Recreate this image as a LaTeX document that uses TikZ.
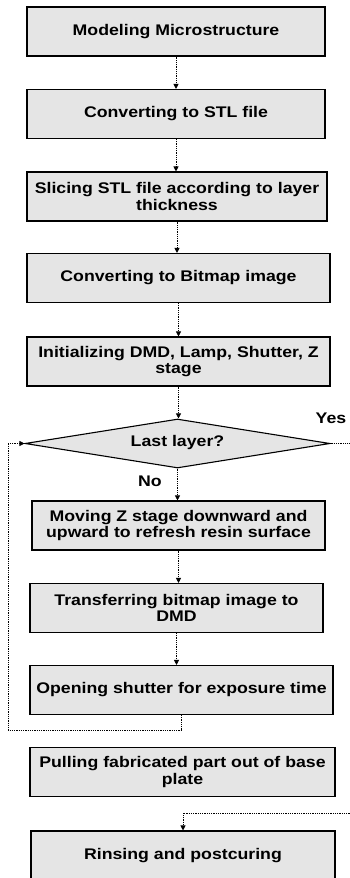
\documentclass[tikz,border=0pt]{standalone}
\usepackage{fontspec}
\setmainfont{Liberation Sans}[FakeStretch=1.15]
\usetikzlibrary{shapes.geometric,arrows.meta}
\begin{document}
\begin{tikzpicture}[x=1pt,y=-1pt,
  font=\fontsize{15.4}{16.5}\selectfont\bfseries,
  box/.style={draw=black, line width=1.1pt, fill=black!10, minimum height=49pt, align=center, inner sep=2pt},
  decision/.style={diamond, draw=black, line width=1.1pt, fill=black!10, minimum width=305pt, minimum height=49pt, inner sep=0pt, aspect=6},
  conn/.style={densely dotted, line width=0.8pt, -{Triangle[length=5pt,width=5pt]}},
  lineonly/.style={densely dotted, line width=0.8pt},
  lbl/.style={inner sep=0pt}]
\useasboundingbox (0,0) rectangle (349,878);
\node[box, minimum width=298pt] (b1) at (176,31.5) {Modeling Microstructure};
\node[box, minimum width=298pt] (b2) at (176,114) {Converting to STL file};
\node[box, minimum width=300pt] (b3) at (177,196.5) {Slicing STL file according to layer\\thickness};
\node[box, minimum width=303pt] (b4) at (178.5,278) {Converting to Bitmap image};
\node[box, minimum width=303pt] (b5) at (178.5,361.5) {Initializing DMD, Lamp, Shutter, Z\\stage};
\node[decision] (d) at (177.5,443.5) {\raisebox{5pt}{Last layer?}};
\node[box, minimum width=293pt] (b6) at (178.5,525.5) {Moving Z stage downward and\\upward to refresh resin surface};
\node[box, minimum width=293pt] (b7) at (176.5,608) {Transferring bitmap image to\\DMD};
\node[box, minimum width=303pt] (b8) at (181.5,690) {Opening shutter for exposure time};
\node[box, minimum width=305pt] (b9) at (182.5,772) {Pulling fabricated part out of base\\plate};
\node[box, minimum width=304pt] (b10) at (183,855.5) {Rinsing and postcuring};
\node[lbl] (yes) at (331,418) {Yes};
\node[lbl] (no) at (150,481) {No};
\coordinate (lp1) at (182,730);
\coordinate (lp2) at (8,730);
\coordinate (yr) at (352,813);
\draw[conn] (b1.south) -- (b1.south |- b2.north);
\draw[conn] (b2.south) -- (b2.south |- b3.north);
\draw[conn] (b3.south) -- (b3.south |- b4.north);
\draw[conn] (b4.south) -- (b4.south |- b5.north);
\draw[conn] (b5.south) -- (b5.south |- d.north);
\draw[conn] (d.south) -- (d.south |- b6.north);
\draw[conn] (b6.south) -- (b6.south |- b7.north);
\draw[conn] (b7.south) -- (b7.south |- b8.north);
\draw[conn] (b8.south) -- (b8.south |- lp1) -- (lp2) |- (d.west);
\draw[lineonly] (d.east) -| (yr);
\draw[conn] (yr) -| (b10.north);
\end{tikzpicture}
\end{document}
